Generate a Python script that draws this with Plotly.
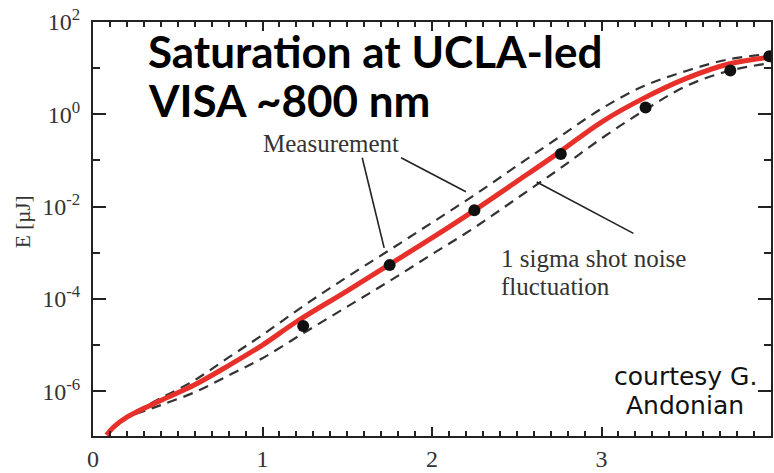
import plotly.graph_objects as go

# ---------------- data ----------------
x_fit = [0.08, 0.12, 0.2, 0.4, 0.6, 0.8, 1.0, 1.2, 1.5, 1.75, 2.0, 2.25, 2.5, 2.75, 3.0, 3.25, 3.5, 3.75, 4.0]
e_fit = [1.12e-7, 1.66e-7, 2.75e-7, 6.3e-7, 1.38e-6, 3.6e-6, 1.0e-5, 3.2e-5, 1.5e-4, 5.6e-4, 2.1e-3, 8.3e-3,
         3.5e-2, 0.15, 0.68, 2.24, 6.0, 12.3, 17.4]

x_band = [0.25, 0.4, 0.6, 0.8, 1.0, 1.25, 1.5, 1.75, 2.0, 2.25, 2.5, 2.75, 3.0, 3.25, 3.5, 3.75, 4.0]
e_upper = [3.7e-7, 7.1e-7, 1.74e-6, 5.4e-6, 1.66e-5, 7.4e-5, 3.0e-4, 1.15e-3, 4.5e-3, 1.78e-2, 7.6e-2,
           0.32, 1.32, 4.1, 8.7, 15.5, 20.4]
e_lower = [3.2e-7, 5.0e-7, 9.5e-7, 2.2e-6, 5.2e-6, 1.9e-5, 6.8e-5, 2.45e-4, 9.3e-4, 3.5e-3, 1.5e-2,
           6.5e-2, 0.30, 1.2, 4.1, 8.7, 12.9]

x_meas = [1.24, 1.75, 2.25, 2.76, 3.26, 3.76, 3.99]
e_meas = [2.6e-5, 5.4e-4, 8.3e-3, 0.138, 1.41, 8.9, 18.2]

y_tickvals = [1e-6, 1e-4, 1e-2, 1, 1e2]
y_ticktext = ["10<sup>-6</sup>", "10<sup>-4</sup>", "10<sup>-2</sup>", "10<sup>0</sup>", "10<sup>2</sup>"]
y_minorvals = [1e-5, 1e-3, 1e-1, 1e1]
x_tickvals = [0, 1, 2, 3, 4]
x_ticktext = ["0", "1", "2", "3", ""]

X_RANGE = [0, 4]
Y_RANGE = [-6.97, 2]

# ---------------- layout geometry ----------------
W, H = 774, 473
ML, MR, MT, MB = 93, 1, 22, 24
PW, PH = W - ML - MR, H - MT - MB


def px(xp):
    return (xp - ML) / PW


def py(yp):
    return (H - MB - yp) / PH


SERIF = "Liberation Serif"
GREY = "#333333"
AX = "#222222"

fig = go.Figure()

dash_style = dict(color="#333333", width=2.2, dash="10px,7px", shape="spline")
fig.add_trace(go.Scatter(x=x_band, y=e_upper, mode="lines", line=dash_style, showlegend=False))
fig.add_trace(go.Scatter(x=x_band, y=e_lower, mode="lines", line=dash_style, showlegend=False))
fig.add_trace(go.Scatter(x=x_fit, y=e_fit, mode="lines",
                         line=dict(color="#e8302a", width=5, shape="spline"), showlegend=False))
fig.add_trace(go.Scatter(x=x_meas, y=e_meas, mode="markers",
                         marker=dict(color="#111111", size=12), showlegend=False))

fig.update_layout(
    xaxis=dict(range=X_RANGE, tickmode="array", tickvals=x_tickvals, ticktext=x_ticktext,
               ticks="inside", ticklen=9, tickwidth=2, tickcolor=AX,
               showline=True, linecolor=AX, linewidth=2, mirror="ticks",
               showgrid=False, zeroline=False,
               tickfont=dict(family=SERIF, size=24, color=GREY),
               minor=dict(dtick=0.1, tick0=0, ticklen=5, tickwidth=2, ticks="inside",
                          tickcolor=AX, showgrid=False)),
    yaxis=dict(type="log", range=Y_RANGE, tickmode="array", tickvals=y_tickvals,
               ticktext=y_ticktext, ticks="inside", ticklen=13, tickwidth=2, tickcolor=AX,
               ticklabelstandoff=6,
               showline=True, linecolor=AX, linewidth=2, mirror="ticks",
               showgrid=False, zeroline=False,
               tickfont=dict(family=SERIF, size=24, color=GREY),
               minor=dict(tickmode="array", tickvals=y_minorvals, ticklen=7, tickwidth=2,
                          ticks="inside", tickcolor=AX, showgrid=False)),
)

shapes = []
# pointer lines
for (x0, y0, x1, y1) in [(363, 162, 385, 255), (402, 162, 467, 197), (538, 187, 635, 240)]:
    shapes.append(dict(type="line", xref="paper", yref="paper",
                       x0=px(x0), y0=py(y0), x1=px(x1), y1=py(y1),
                       line=dict(color="#222222", width=1.6)))
fig.update_layout(shapes=shapes)

ann = []
ann.append(dict(text="Measurement", x=px(332), y=py(147), xanchor="center", yanchor="middle",
                font=dict(family=SERIF, size=25, color=GREY)))
ann.append(dict(text="1 sigma shot noise", x=px(500), y=py(266), xanchor="left",
                yanchor="middle", font=dict(family=SERIF, size=25, color=GREY)))
ann.append(dict(text="fluctuation", x=px(500), y=py(295), xanchor="left",
                yanchor="middle", font=dict(family=SERIF, size=25, color=GREY)))
ann.append(dict(text="<b>Saturation at UCLA-led</b>", x=px(146), y=py(52),
                xanchor="left", yanchor="middle",
                font=dict(family="Lato", size=44, color="#000000")))
ann.append(dict(text="<b>VISA ~800 nm</b>", x=px(146), y=py(102),
                xanchor="left", yanchor="middle",
                font=dict(family="Lato", size=44, color="#000000")))
ann.append(dict(text="courtesy G.", x=px(687), y=py(388), xanchor="center",
                yanchor="middle", font=dict(family="DejaVu Sans", size=25, color="#111111")))
ann.append(dict(text="Andonian", x=px(687), y=py(418), xanchor="center",
                yanchor="middle", font=dict(family="DejaVu Sans", size=25, color="#111111")))
ann.append(dict(text="E [µJ]", x=px(23), y=py(228), xanchor="center", yanchor="middle",
                textangle=-90, font=dict(family=SERIF, size=21, color=GREY)))
for a in ann:
    a.update(xref="paper", yref="paper", showarrow=False)
fig.update_layout(annotations=ann)

fig.update_layout(width=W, height=H, margin=dict(l=ML, r=MR, t=MT, b=MB),
                  plot_bgcolor="white", paper_bgcolor="white")

fig.write_html("out.html")
